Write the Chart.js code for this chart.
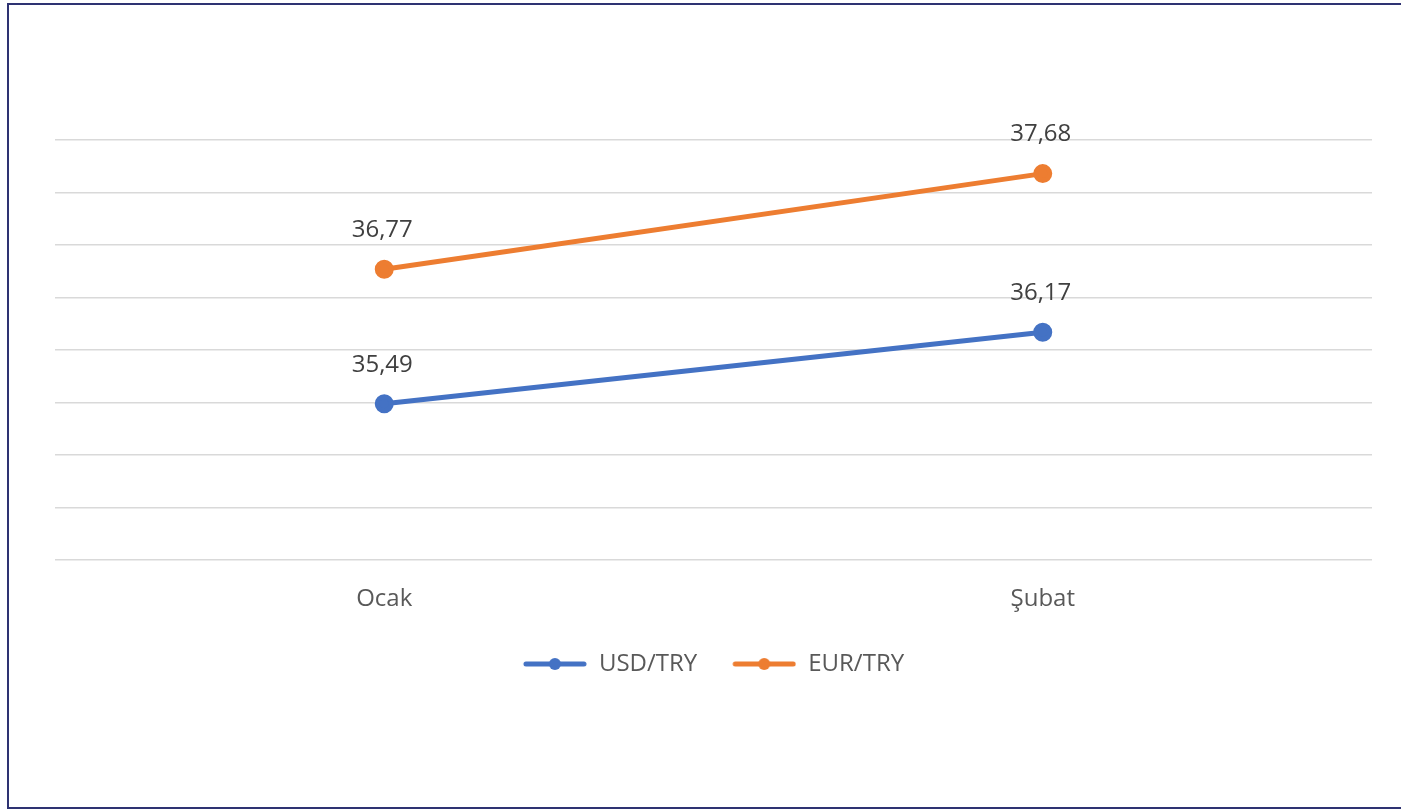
<!DOCTYPE html>
<html>
<head>
<meta charset="utf-8">
<script src="https://cdn.jsdelivr.net/npm/chart.js@4/dist/chart.umd.min.js"></script>
<style>
  html, body { margin: 0; padding: 0; background: #ffffff; overflow: hidden; }
  #frame {
    position: absolute; left: 7px; top: 3px;
    width: 1500px; height: 802px;
    border: 2px solid #2e3272;
    background: #ffffff;
  }
  #box { position: absolute; left: 0; top: 0; width: 1392px; height: 802px; }
</style>
</head>
<body>
<div id="frame"><div id="box"><canvas id="kurChart"></canvas></div></div>
<script>
// data
var months = ['Ocak', 'Şubat'];
var usdTry = [35.49, 36.17];
var eurTry = [36.77, 37.68];
var seriesNames = ['USD/TRY', 'EUR/TRY'];
var seriesColors = ['#4472C4', '#ED7D31'];

// legend icon: line with dot in the middle (blank strip on the left = gap between items)
makeLegendIcon = (color) => {
    let c = document.createElement('canvas');
    c.width = 86;
    c.height = 14;
    let g = c.getContext('2d');
    g.strokeStyle = color;
    g.lineWidth = 5;
    g.lineCap = 'round';
    g.beginPath();
    g.moveTo(25, 7);
    g.lineTo(83, 7);
    g.stroke();
    g.fillStyle = color;
    g.beginPath();
    g.arc(54, 7, 6, 0, Math.PI * 2);
    g.fill();
    return c;
};

// value labels above points
var valueLabels = {
    id: 'valueLabels',
    afterLayout(chart) {
        // blank strip of the first icon pushes the legend right, pull it back
        chart.legend.left -= 11;
        chart.legend.right -= 11;
    },
    afterDatasetsDraw(chart) {
        let ctx = chart.ctx;
        ctx.save();
        ctx.font = '24px "Open Sans"';
        ctx.fillStyle = '#404040';
        ctx.textAlign = 'center';
        ctx.textBaseline = 'middle';
        chart.data.datasets.forEach((ds, i) => {
            chart.getDatasetMeta(i).data.forEach((pt, j) => {
                let txt = ds.data[j].toFixed(2).replace('.', ',');
                ctx.fillText(txt, pt.x - 2, pt.y - 39);
            });
        });
        ctx.restore();
    }
};

var kurChart1 = new Chart(document.getElementById('kurChart').getContext('2d'), {
    type: 'line',
    data: {
        labels: months,
        datasets: [{
            label: seriesNames[0],
            data: usdTry,
            borderColor: seriesColors[0],
            backgroundColor: seriesColors[0],
            borderWidth: 5,
            pointRadius: 7,
            pointHoverRadius: 7
        }, {
            label: seriesNames[1],
            data: eurTry,
            borderColor: seriesColors[1],
            backgroundColor: seriesColors[1],
            borderWidth: 5,
            pointRadius: 7,
            pointHoverRadius: 7
        }]
    },
    options: {
        responsive: true,
        maintainAspectRatio: false,
        animation: false,
        layout: {
            padding: { left: 46, right: 29, top: 135, bottom: 121 }
        },
        scales: {
            x: {
                offset: true,
                grid: { display: false, drawTicks: false },
                border: { display: false },
                ticks: {
                    padding: 25,
                    color: '#595959',
                    font: { family: 'Open Sans', size: 24 }
                }
            },
            y: {
                min: 34,
                max: 38,
                ticks: { display: false, stepSize: 0.5 },
                grid: { color: '#d9d9d9', lineWidth: 1.5, drawTicks: false },
                border: { display: false }
            }
        },
        plugins: {
            tooltip: { enabled: false },
            legend: {
                position: 'bottom',
                labels: {
                    usePointStyle: true,
                    pointStyleWidth: 86,
                    padding: 13,
                    color: '#595959',
                    font: { family: 'Open Sans', size: 24 },
                    generateLabels: (chart) => chart.data.datasets.map((ds, i) => ({
                        text: ds.label,
                        pointStyle: makeLegendIcon(seriesColors[i]),
                        fillStyle: seriesColors[i],
                        strokeStyle: seriesColors[i],
                        fontColor: '#595959',
                        lineWidth: 0,
                        hidden: false,
                        datasetIndex: i
                    }))
                }
            }
        }
    },
    plugins: [valueLabels]
});
</script>
</body>
</html>
